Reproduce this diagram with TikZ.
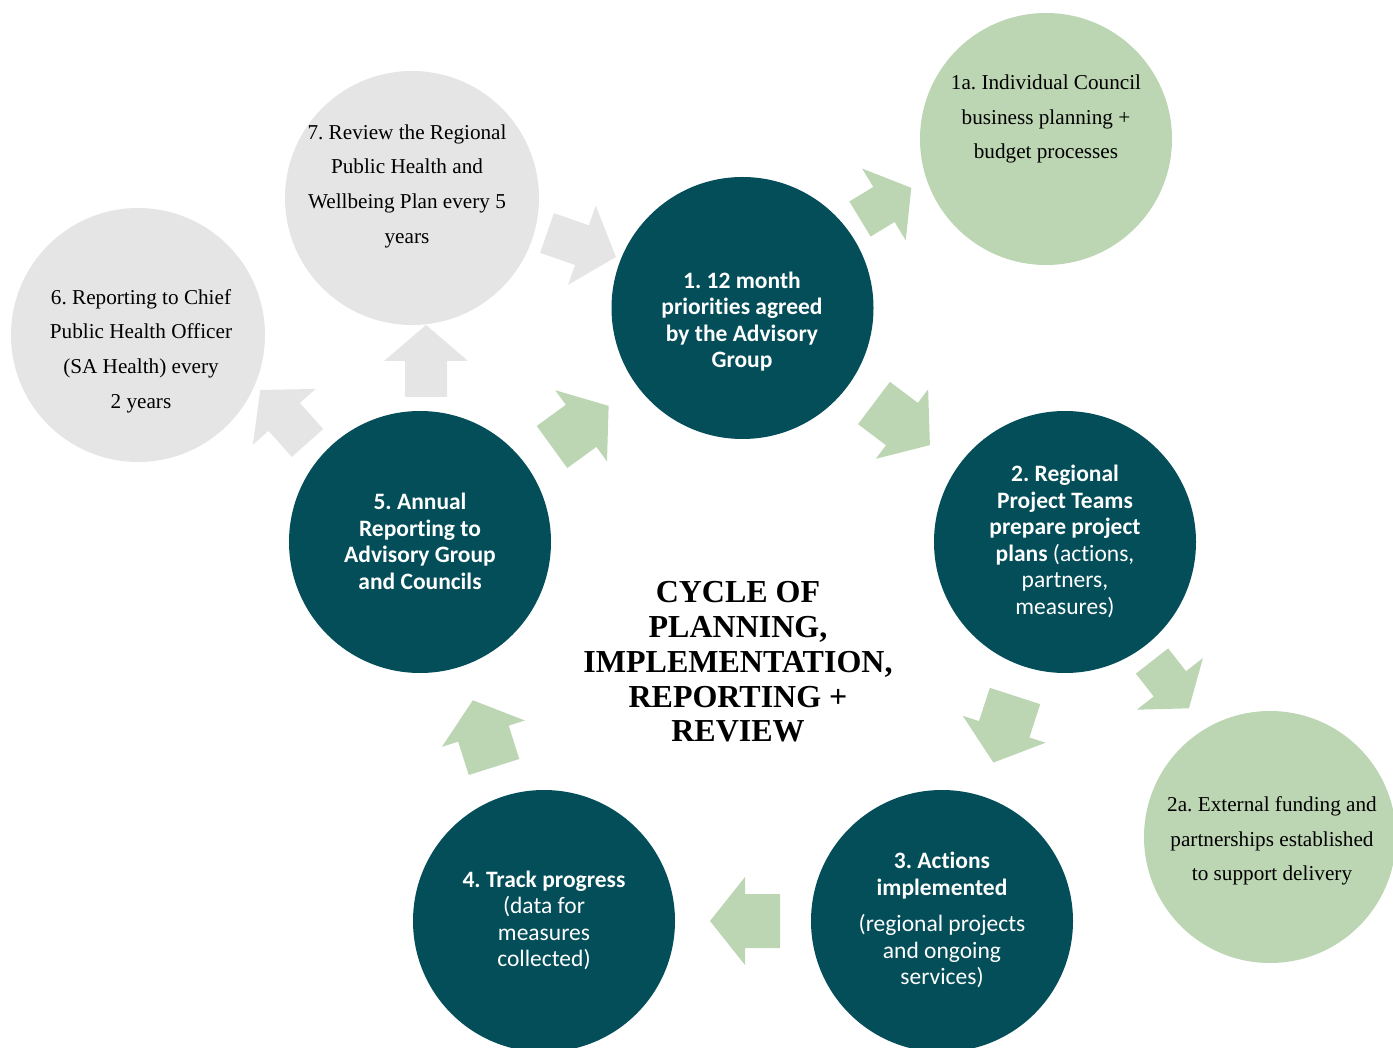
\documentclass[tikz,border=0pt]{standalone}
\usepackage{fontspec}
\setmainfont{Liberation Serif}
\newfontfamily\stagefont[Ligatures=NoCommon]{Carlito}
\frenchspacing
\definecolor{deepteal}{HTML}{034E59}
\definecolor{sage}{HTML}{BCD5B3}
\definecolor{mist}{HTML}{E5E5E5}
\tikzset{
  stage/.style={circle, fill=deepteal, minimum size=262pt, inner sep=0pt},
  side/.style={circle, fill=sage, minimum size=252pt, inner sep=0pt},
  past/.style={circle, fill=mist, minimum size=254pt, inner sep=0pt},
  stagetext/.style={text=white, align=center, font=\stagefont\fontsize{23.5}{26.5}\selectfont},
  sidetext/.style={text=black, align=center, font=\fontsize{21.2}{34.7}\selectfont},
  titletext/.style={text=black, align=center, font=\bfseries\fontsize{32}{34.7}\selectfont},
  % block arrow pointing along +x from its tail centre:
  % #1 total length, #2 shaft width, #3 head width, #4 head length
  pics/blockarrow/.style n args={4}{code={
    \path[pic actions] (0,-#2/2) -- (#1-#4,-#2/2) -- (#1-#4,-#3/2) -- (#1,0)
      -- (#1-#4,#3/2) -- (#1-#4,#2/2) -- (0,#2/2) -- cycle;
  }},
  cyclearrow/.style={fill=sage},
  sidearrow/.style={fill=sage},
  pastarrow/.style={fill=mist},
}
\begin{document}
\begin{tikzpicture}[x=1pt,y=-1pt]
\useasboundingbox (0,0) rectangle (1393,1048);
\clip (0,0) rectangle (1393,1048);

% circles
\node[stage] (c1) at (742.5,308) {};
\node[stage] (c2) at (1065,542) {};
\node[stage] (c3) at (942,921) {};
\node[stage] (c4) at (544,921) {};
\node[stage] (c5) at (420,542) {};
\node[side]  (c1a) at (1046,139) {};
\node[side]  (c2a) at (1270,837) {};
\node[past]  (c7) at (412,198) {};
\node[past]  (c6) at (138,335) {};

% block arrows
\pic (a71)  [pastarrow, rotate=-19.2]  at (547,233)   {blockarrow={73}{42}{84}{36}};
\pic (a11a) [sidearrow, rotate=31.3]   at (860,219)   {blockarrow={60}{41}{84}{32}};
\pic (a12)  [cyclearrow, rotate=-37]   at (874,403)   {blockarrow={70}{53}{87}{35}};
\pic (a22a) [sidearrow, rotate=-52]    at (1152,661)  {blockarrow={60}{41}{84}{31}};
\pic (a23)  [cyclearrow, rotate=-108]  at (1015,696)  {blockarrow={70}{53}{87}{35}};
\pic (a34)  [cyclearrow, rotate=180]   at (780,921)   {blockarrow={70}{54}{88}{35}};
\pic (a45)  [cyclearrow, rotate=107.6] at (494,767)   {blockarrow={70}{53}{87}{35}};
\pic (a51)  [cyclearrow, rotate=36]    at (552,447)   {blockarrow={70}{52}{88}{34}};
\pic (a57)  [pastarrow, rotate=90]     at (426,397)   {blockarrow={72}{42}{84}{36}};
\pic (a56)  [pastarrow, rotate=131.7]  at (307.5,443) {blockarrow={71}{42}{84}{36}};

% circle texts
\node[stagetext] (t1) at (742,321.5) {\textbf{1. 12 month}\\\textbf{priorities agreed}\\\textbf{by the Advisory}\\\textbf{Group}};
\node[stagetext] (t2) at (1065,541.5) {\textbf{2. Regional}\\\textbf{Project Teams}\\\textbf{prepare project}\\\textbf{plans} (actions,\\partners,\\measures)};
\node[stagetext] (t3) at (942,920) {\textbf{3. Actions}\\\textbf{implemented}\\[10pt](regional projects\\and ongoing\\services)};
\node[stagetext] (t4) at (544,920.5) {\textbf{4. Track progress}\\(data for\\measures\\collected)};
\node[stagetext] (t5) at (420,541.5) {\textbf{5. Annual}\\\textbf{Reporting to}\\\textbf{Advisory Group}\\\textbf{and Councils}};
\node[sidetext] (t1a) at (1046,119) {1a. Individual Council\\business planning +\\budget processes};
\node[sidetext] (t2a) at (1272,841) {2a. External funding and\\partnerships established\\to support delivery};
\node[sidetext] (t7) at (407,186) {7. Review the Regional\\Public Health and\\Wellbeing Plan every 5\\years};
\node[sidetext] (t6) at (141,351) {6. Reporting to Chief\\Public Health Officer\\(SA Health) every\\2 years};

% centre title
\node[titletext] (title) at (738,662) {CYCLE OF\\PLANNING,\\IMPLEMENTATION,\\REPORTING +\\REVIEW};
\end{tikzpicture}
\end{document}
